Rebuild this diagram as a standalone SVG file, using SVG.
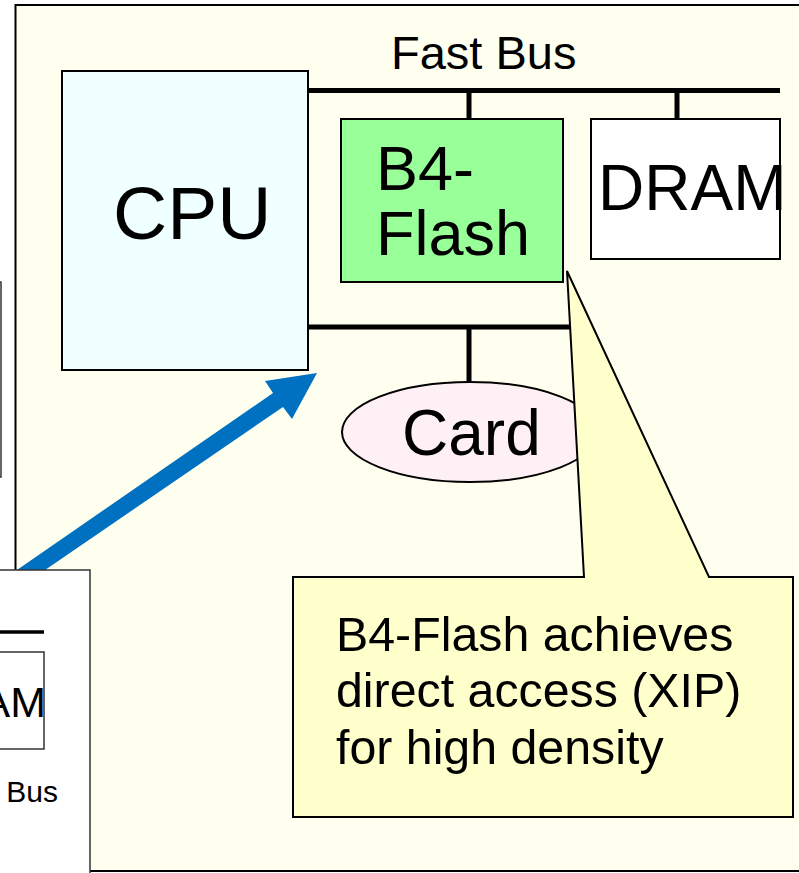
<svg xmlns="http://www.w3.org/2000/svg" width="799" height="873" viewBox="0 0 799 873">
  <style>
    .lbl { font-family: "Liberation Sans", Arial, sans-serif; fill: #000; }
    .box { stroke: #000; stroke-width: 2; }
    .bus { stroke: #000; stroke-width: 5; fill: none; }
    .thin { stroke: #333; stroke-width: 1.5; }
  </style>

  <!-- system board background -->
  <rect id="board" x="15.5" y="5" width="800" height="866" fill="#FFFFF0" stroke="#000" stroke-width="2"/>

  <!-- partially visible neighbouring block on the left -->
  <rect id="left-block" x="-60" y="282" width="61" height="195" fill="#FFFFFF" class="thin"/>

  <g id="cpu">
    <rect x="62" y="71" width="246" height="299" fill="#F0FFFF" class="box"/>
    <text class="lbl" x="113" y="239" font-size="75">CPU</text>
  </g>

  <!-- bus connectors -->
  <g id="connectors">
    <line class="bus" x1="308" y1="90.5" x2="780" y2="90.5"/>
    <line class="bus" x1="469" y1="90.5" x2="469" y2="119"/>
    <line class="bus" x1="677" y1="90.5" x2="677" y2="119"/>
    <line class="bus" x1="308" y1="327" x2="575" y2="327"/>
    <line class="bus" x1="469" y1="327" x2="469" y2="383"/>
  </g>

  <g id="fast-bus-label">
    <text class="lbl" x="391" y="69" font-size="47">Fast Bus</text>
  </g>

  <g id="b4-flash">
    <rect x="341" y="119" width="222" height="163" fill="#99FF99" class="box"/>
    <text class="lbl" x="376" y="190" font-size="63">B4-</text>
    <text class="lbl" x="376" y="255" font-size="63">Flash</text>
  </g>

  <g id="dram">
    <rect x="591" y="119" width="189" height="140" fill="#FFFFFF" class="box"/>
    <text class="lbl" x="598" y="210" font-size="64">DRAM</text>
  </g>

  <g id="card">
    <ellipse cx="470" cy="432" rx="128" ry="50" fill="#FFF0F5" stroke="#000" stroke-width="2"/>
    <text class="lbl" x="402" y="455" font-size="64">Card</text>
  </g>

  <!-- callout pointing at the B4-Flash block -->
  <g id="callout">
    <path d="M293,577 H584 L567,271 L709,577 H793 V817 H293 Z" fill="#FFFFCC" stroke="#000" stroke-width="2" stroke-linejoin="miter"/>
    <text class="lbl" font-size="48.3">
      <tspan x="336" y="651">B4-Flash achieves</tspan>
      <tspan x="336" y="707">direct access (XIP)</tspan>
      <tspan x="336" y="764">for high density</tspan>
    </text>
  </g>

  <!-- block arrow from the small system view up to the CPU -->
  <g id="zoom-arrow">
    <polygon fill="#0070C0" points="317,373 292,419 283,407 10,594 1,581 273,393 265,381"/>
  </g>

  <!-- small system view, partially visible at lower left -->
  <g id="small-system">
    <rect x="-80" y="570" width="170" height="320" fill="#FFFFFF" class="thin"/>
    <line x1="-10" y1="632" x2="44" y2="632" stroke="#000" stroke-width="3.5"/>
    <rect x="-60" y="652" width="104" height="97" fill="#FFFFFF" class="thin"/>
    <text class="lbl" x="46" y="717" font-size="43" text-anchor="end">AM</text>
    <text class="lbl" x="58" y="802" font-size="30" text-anchor="end">Bus</text>
  </g>
</svg>
